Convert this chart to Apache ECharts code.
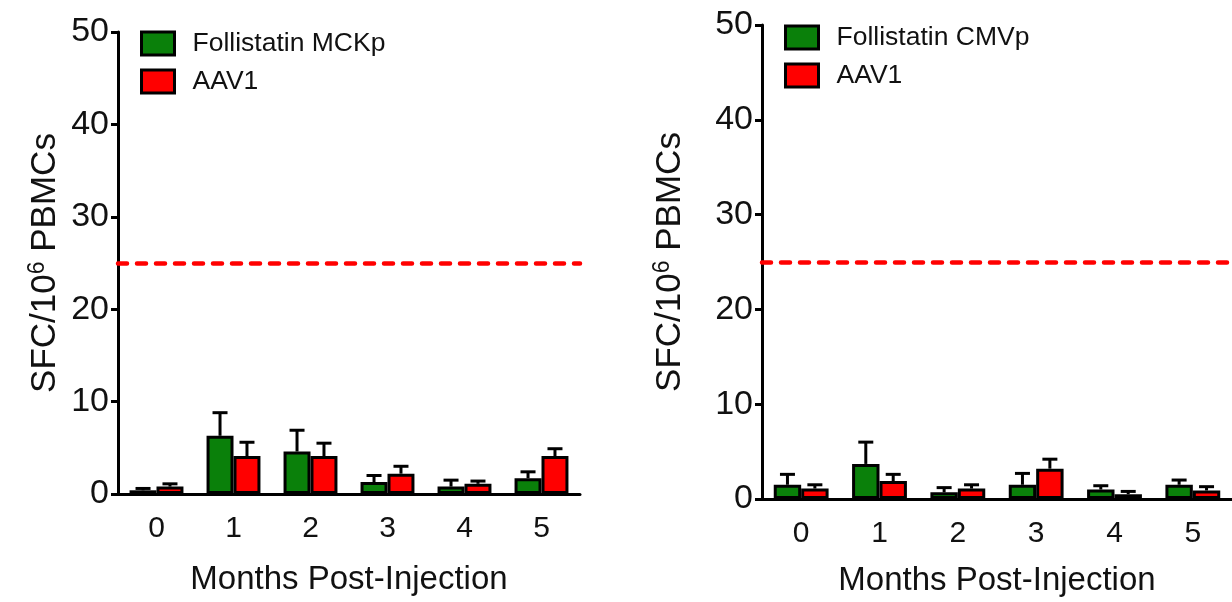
<!DOCTYPE html>
<html>
<head>
<meta charset="utf-8">
<script src="https://cdn.jsdelivr.net/npm/echarts@6/dist/echarts.min.js"></script>
<style>
  html, body { margin: 0; padding: 0; background: #fff; }
  #chart { width: 1232px; height: 602px; }
</style>
</head>
<body>
<div id="chart"></div>
<script>
// months after injection
var months = ["0", "1", "2", "3", "4", "5"];
var yTicks = [0, 10, 20, 30, 40, 50];
var threshold = 25;

// left panel: MCK promoter
var mckMean = [0.4, 6.3, 4.6, 1.3, 0.8, 1.7];
var mckSem = [0.2, 2.5, 2.3, 0.7, 0.7, 0.7];
var mckAavMean = [0.8, 4.1, 4.1, 2.2, 1.1, 4.1];
var mckAavSem = [0.3, 1.5, 1.4, 0.8, 0.3, 0.8];

// right panel: CMV promoter
var cmvMean = [1.5, 3.7, 0.7, 1.5, 1.0, 1.5];
var cmvSem = [1.1, 2.3, 0.5, 1.2, 0.4, 0.5];
var cmvAavMean = [1.1, 1.9, 1.1, 3.2, 0.5, 0.9];
var cmvAavSem = [0.4, 0.7, 0.4, 1.0, 0.3, 0.4];

var GREEN = "#0a800a";
var RED = "#ff0000";
var BW = 0.35;
var FONT = "Liberation Sans, Arial, sans-serif";

function errData(mean, sem) {
  return mean.map(function (m, i) { return [i, m + sem[i], m]; });
}

// upper error bar, shifted onto the left (-1) or right (+1) bar of the pair
function errRender(side) {
  return function (params, api) {
    var i = api.value(0);
    var pTop = api.coord([i, api.value(1)]);
    var pBar = api.coord([i, api.value(2)]);
    var band = api.size([1, 0])[0];
    var x = pTop[0] + side * band * BW / 2;
    var st = { stroke: "#000", lineWidth: 3 };
    return {
      type: "group",
      children: [
        { type: "line", shape: { x1: x, y1: pBar[1], x2: x, y2: pTop[1] }, style: st },
        { type: "line", shape: { x1: x - 7.5, y1: pTop[1], x2: x + 7.5, y2: pTop[1] }, style: st }
      ]
    };
  };
}

function xAxis(gi) {
  return {
    type: "category", gridIndex: gi, data: months,
    name: "Months Post-Injection", nameLocation: "middle", nameGap: gi ? 65 : 69,
    nameTextStyle: { fontSize: 33, color: "#111", fontFamily: FONT },
    axisLine: { lineStyle: { color: "#000", width: 3 } },
    axisTick: { alignWithLabel: true, length: 9, lineStyle: { color: "#000", width: 3 } },
    axisLabel: { fontSize: 30, color: "#111", margin: 20, fontFamily: FONT }
  };
}

function yAxis(gi) {
  return {
    type: "value", gridIndex: gi, min: yTicks[0], max: yTicks[yTicks.length - 1], interval: 10,
    name: "{a|SFC/10}{s|6}{a| PBMCs}", nameLocation: "middle", nameGap: gi ? 72 : 53,
    nameTextStyle: {
      color: "#111", fontFamily: FONT,
      rich: {
        a: { fontSize: 35, color: "#111", fontFamily: FONT },
        s: { fontSize: 23, color: "#111", fontFamily: FONT, padding: [0, 0, 16, 0] }
      }
    },
    axisLine: { show: true, lineStyle: { color: "#000", width: 3 } },
    axisTick: { show: true, length: 7, lineStyle: { color: "#000", width: 3 } },
    axisLabel: { fontSize: 34, color: "#111", margin: 9, fontFamily: FONT },
    splitLine: { show: false }
  };
}

function barSeries(name, gi, data, color, withLine) {
  var s = {
    name: name, type: "bar", xAxisIndex: gi, yAxisIndex: gi, data: data,
    barWidth: BW * 100 + "%", barGap: "0%",
    itemStyle: { color: color, borderColor: "#000", borderWidth: 3 },
    z: 2
  };
  if (withLine) {
    s.markLine = {
      silent: true, symbol: ["none", "none"], label: { show: false },
      lineStyle: { color: RED, width: 4.5, type: [9, 10], cap: "round" },
      data: [{ yAxis: threshold }]
    };
  }
  return s;
}

function errSeries(gi, mean, sem, side) {
  return {
    type: "custom", xAxisIndex: gi, yAxisIndex: gi, data: errData(mean, sem),
    renderItem: errRender(side), z: 3, silent: true
  };
}

function legend(left, top, names) {
  return {
    orient: "vertical", left: left, top: top, data: names, icon: "rect",
    itemWidth: 33, itemHeight: 23, itemGap: 11,
    itemStyle: { borderColor: "#000", borderWidth: 3 },
    textStyle: { fontSize: 26.5, color: "#111", fontFamily: FONT, padding: [0, 0, 0, 13] },
    selectedMode: false
  };
}

var chart = echarts.init(document.getElementById("chart"));
chart.setOption({
  animation: false,
  backgroundColor: "#fff",
  grid: [
    { left: 118, top: 32, width: 462, height: 462 },
    { left: 762, top: 25, width: 478, height: 476 }
  ],
  legend: [
    legend(135, 25, ["Follistatin MCKp", "AAV1"]),
    legend(779, 19, ["Follistatin CMVp", "AAV1"])
  ],
  xAxis: [xAxis(0), xAxis(1)],
  yAxis: [yAxis(0), yAxis(1)],
  series: [
    barSeries("Follistatin MCKp", 0, mckMean, GREEN, true),
    barSeries("AAV1", 0, mckAavMean, RED, false),
    errSeries(0, mckMean, mckSem, -1),
    errSeries(0, mckAavMean, mckAavSem, 1),
    barSeries("Follistatin CMVp", 1, cmvMean, GREEN, true),
    barSeries("AAV1", 1, cmvAavMean, RED, false),
    errSeries(1, cmvMean, cmvSem, -1),
    errSeries(1, cmvAavMean, cmvAavSem, 1)
  ]
});
</script>
</body>
</html>
